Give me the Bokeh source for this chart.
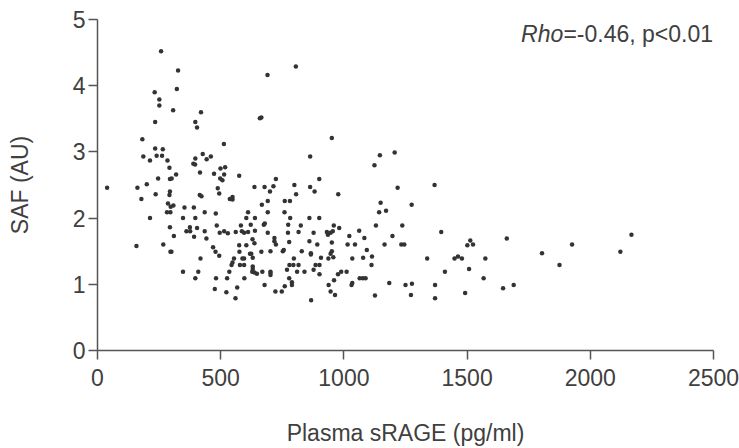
from bokeh.plotting import figure
from bokeh.models import Range1d, Label, ColumnDataSource
from bokeh.embed import file_html
from bokeh.resources import INLINE

srage = [258, 327, 322, 232, 251, 251, 307, 420, 234, 397, 404, 182, 513, 234, 265, 186, 240, 262, 213, 284,
         397, 427, 443, 460, 389, 396, 292, 499, 518, 416, 473, 514, 575, 246, 294, 301, 319, 498, 507, 39,
         162, 200, 488,
         178, 236, 294, 292, 415, 422, 494, 537, 548, 548, 286, 308, 297, 353, 391, 282, 296, 435, 480, 611,
         213, 347, 397, 604, 484, 582, 294, 375, 404, 361, 376, 435, 496, 514, 529, 561, 586, 595, 611, 310,
         392, 442, 158, 267, 469, 575, 604, 296, 300, 479, 576, 494, 418, 554, 588, 595, 548, 544, 578, 595,
         535, 347, 409, 397, 481, 526, 596, 567, 476, 523, 560, 619,
         637, 678, 714, 700, 724, 799, 863, 900, 881, 806, 977, 667, 691, 760, 781, 1149, 1143, 1171, 691, 759,
         639, 782, 860, 900, 622, 675, 679, 774, 825, 959, 981, 1130, 639, 691, 773, 816, 877, 931, 935, 946,
         955, 1062, 1022, 1083, 629, 637, 718, 718, 724, 778, 860, 892, 951, 1015, 1045, 1093, 1165, 624, 665,
         702, 752, 756, 829, 866, 866, 951, 946, 630, 797, 907, 937, 957, 1034, 1078, 1114, 630, 630, 628, 637,
         647, 669, 702, 702, 702, 769, 779, 795, 816, 810, 840, 877, 885, 901, 901, 976, 989, 1011, 778, 789,
         789, 678, 760, 722, 748, 867, 938, 960, 946, 964, 1034, 1031, 1064, 1077, 1088, 1126, 1184, 1112,
         690, 805, 665, 659, 951, 863, 1146, 1124,
         1206, 1218, 1368, 1275, 1237, 1197, 1395, 1233, 1245, 1338, 1449, 1463, 1479, 1513, 1501, 1524, 1574,
         1661, 1410, 1508, 1567, 1250, 1276, 1370, 1272, 1370, 1492, 1646, 1689,
         1804, 1875, 1926, 2122, 2167]
saf = [4.52, 4.23, 3.95, 3.90, 3.79, 3.70, 3.63, 3.60, 3.45, 3.45, 3.37, 3.19, 3.12, 3.05, 3.04, 2.93, 2.94, 2.94, 2.87, 2.87,
       2.90, 2.97, 2.89, 2.93, 2.82, 2.81, 2.76, 2.75, 2.77, 2.69, 2.67, 2.66, 2.64, 2.60, 2.59, 2.60, 2.66, 2.60, 2.57, 2.46,
       2.46, 2.51, 2.45,
       2.29, 2.36, 2.40, 2.35, 2.35, 2.33, 2.37, 2.29, 2.32, 2.28, 2.22, 2.19, 2.17, 2.16, 2.16, 2.09, 2.09, 2.09, 2.07, 2.09,
       2.00, 2.00, 2.00, 2.00, 1.89, 1.89, 1.86, 1.86, 1.85, 1.80, 1.80, 1.80, 1.78, 1.80, 1.77, 1.79, 1.80, 1.78, 1.79, 1.73,
       1.72, 1.69, 1.58, 1.60, 1.56, 1.59, 1.59, 1.49, 1.49, 1.49, 1.49, 1.43, 1.39, 1.39, 1.39, 1.39, 1.33, 1.29, 1.29, 1.29,
       1.19, 1.19, 1.19, 1.09, 1.09, 1.09, 1.09, 0.95, 0.93, 0.88, 0.79, 1.46,
       2.47, 2.47, 2.48, 2.40, 2.59, 2.50, 2.47, 2.59, 2.40, 2.36, 2.36, 2.20, 2.26, 2.26, 2.26, 2.23, 2.09, 2.11, 2.09, 2.09,
       2.00, 2.00, 2.00, 2.00, 1.90, 1.90, 1.92, 1.90, 1.89, 1.89, 1.85, 1.89, 1.81, 1.78, 1.78, 1.79, 1.78, 1.79, 1.75, 1.78,
       1.80, 1.81, 1.73, 1.70, 1.68, 1.62, 1.70, 1.65, 1.60, 1.64, 1.65, 1.60, 1.63, 1.60, 1.60, 1.52, 1.60, 1.46, 1.49,
       1.50, 1.50, 1.52, 1.50, 1.47, 1.45, 1.50, 1.46, 1.40, 1.39, 1.40, 1.39, 1.41, 1.39, 1.40, 1.42, 1.27, 1.23, 1.19, 1.18,
       1.16, 1.19, 1.19, 1.14, 1.17, 1.22, 1.29, 1.29, 1.29, 1.19, 1.19, 1.22, 1.29, 1.29, 1.15, 1.15, 1.19, 1.19, 1.09, 1.03,
       0.99, 0.99, 0.97, 0.89, 0.89, 0.76, 0.99, 1.06, 0.89, 0.84, 1.02, 0.99, 1.09, 1.09, 1.09, 0.83, 1.02, 1.29,
       4.16, 4.29, 3.52, 3.51, 3.21, 2.93, 2.95, 2.80,
       2.99, 2.46, 2.50, 2.20, 1.89, 1.73, 1.79, 1.60, 1.60, 1.39, 1.39, 1.42, 1.39, 1.66, 1.59, 1.60, 1.39,
       1.69, 1.19, 1.23, 1.09, 0.99, 1.01, 0.99, 0.84, 0.79, 0.87, 0.94, 0.99,
       1.47, 1.29, 1.60, 1.49, 1.75]

x_ticks = [0, 500, 1000, 1500, 2000, 2500]
y_ticks = [0, 1, 2, 3, 4, 5]
x_title = "Plasma sRAGE (pg/ml)"
y_title = "SAF (AU)"
rho_name = "Rho"
rho_text = "=-0.46, p<0.01"

FONT = "Liberation Sans"
TXT = "#404040"
AX = "#555555"

src = ColumnDataSource(dict(x=srage, y=saf))

p = figure(width=739, height=448, output_backend="svg", toolbar_location=None,
           x_range=Range1d(0, 2500), y_range=Range1d(0, 5),
           min_border_left=97, min_border_right=26, min_border_top=19, min_border_bottom=95)

p.scatter("x", "y", source=src, size=4.5, fill_color="#333333", line_color=None)

p.xgrid.visible = False
p.ygrid.visible = False
p.outline_line_color = None
p.background_fill_color = "white"
p.border_fill_color = "white"

p.xaxis.ticker = x_ticks
p.yaxis.ticker = y_ticks
for ax in (p.xaxis, p.yaxis):
    ax.axis_line_color = AX
    ax.axis_line_width = 1.5
    ax.major_tick_line_color = AX
    ax.major_tick_line_width = 1.5
    ax.major_tick_out = 9
    ax.major_tick_in = 0
    ax.minor_tick_line_color = None
    ax.major_label_text_font = FONT
    ax.major_label_text_font_size = "23px"
    ax.major_label_text_color = TXT
    ax.axis_label_text_font = FONT
    ax.axis_label_text_font_size = "23px"
    ax.axis_label_text_font_style = "normal"
    ax.axis_label_text_color = TXT

p.xaxis.axis_label = x_title
p.yaxis.axis_label = y_title
p.xaxis.major_label_standoff = 9
p.yaxis.major_label_standoff = 3
p.xaxis.axis_label_standoff = 31
p.yaxis.axis_label_standoff = 37

p.add_layout(Label(x=1719, y=4.78, text=rho_name, text_font=FONT, text_font_size="23px",
                   text_font_style="italic", text_color=TXT, text_baseline="middle", text_align="left"))
p.add_layout(Label(x=1891, y=4.78, text=rho_text, text_font=FONT, text_font_size="23px",
                   text_color=TXT, text_baseline="middle", text_align="left"))

open("out.html", "w").write(file_html(p, INLINE))
